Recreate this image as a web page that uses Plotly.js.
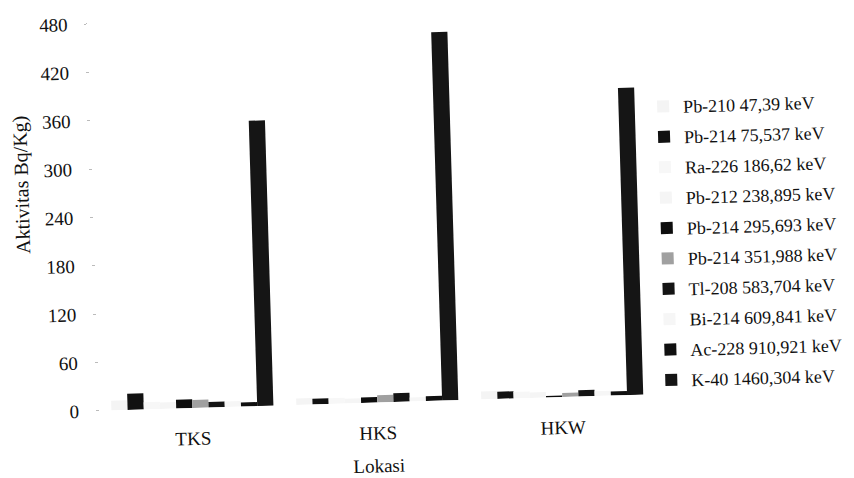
<!DOCTYPE html>
<html>
<head>
<meta charset="utf-8">
<script src="https://cdn.plot.ly/plotly-3.0.1.min.js"></script>
<style>
  html, body { margin: 0; padding: 0; background: #fff; overflow: hidden; }
  /* the printed figure sits slightly askew on the page */
  #chart { width: 854px; height: 478px; transform: rotate(-1.7deg); transform-origin: 427px 239px; }
</style>
</head>
<body>
<div id="chart"></div>
<script>
// Sampling locations
const lokasi = ['TKS', 'HKS', 'HKW'];

// Activity (Bq/Kg) per gamma line, one value per location
const pb210_47 = [12, 8, 10];
const pb214_75 = [20, 7, 9];
const ra226_186 = [9, 7, 8];
const pb212_238 = [8, 6, 7];
const pb214_295 = [11, 7, 2];
const pb214_351 = [10, 9, 5];
const tl208_583 = [7, 11, 8];
const bi214_609 = [7, 5, 6];
const ac228_910 = [5, 6, 5];
const k40_1460 = [354, 457, 381];

// Legend labels
const seriesNames = [
  'Pb-210 47,39 keV',
  'Pb-214 75,537 keV',
  'Ra-226 186,62 keV',
  'Pb-212 238,895 keV',
  'Pb-214 295,693 keV',
  'Pb-214 351,988 keV',
  'Tl-208 583,704 keV',
  'Bi-214 609,841 keV',
  'Ac-228 910,921 keV',
  'K-40 1460,304 keV'
];

const seriesValues = [
  pb210_47, pb214_75, ra226_186, pb212_238, pb214_295,
  pb214_351, tl208_583, bi214_609, ac228_910, k40_1460
];

// Monochrome print: dark series print black, pale ones nearly vanish
const seriesColors = [
  '#f4f4f4', '#111111', '#f7f7f7', '#f5f5f5', '#0d0d0d',
  '#a0a0a0', '#141414', '#f6f6f6', '#101010', '#151515'
];

const serif = 'Liberation Serif, Times New Roman, serif';

const traces = seriesNames.map((name, i) => ({
  type: 'bar',
  name: name,
  x: lokasi,
  y: seriesValues[i],
  legendgroup: 'g' + i,
  marker: { color: seriesColors[i], line: { width: 0 } },
  hoverinfo: 'x+y+name'
}));

const layout = {
  width: 854,
  height: 478,
  margin: { l: 95, r: 204, t: 14, b: 77, autoexpand: false },
  paper_bgcolor: '#ffffff',
  plot_bgcolor: '#ffffff',
  font: { family: serif, size: 19, color: '#111111' },
  barmode: 'group',
  bargap: 0.124,
  bargroupgap: 0,
  showlegend: true,
  legend: {
    x: (647 - 95) / 555,
    xanchor: 'left',
    y: 0.79,
    yanchor: 'top',
    traceorder: 'grouped',
    tracegroupgap: 4,
    font: { family: serif, size: 18, color: '#111111' },
    bgcolor: 'rgba(0,0,0,0)'
  },
  xaxis: {
    type: 'category',
    showgrid: false,
    zeroline: false,
    showline: false,
    ticks: '',
    ticklabelstandoff: 17,
    tickfont: { family: serif, size: 19, color: '#111111' },
    title: { text: 'Lokasi', font: { family: serif, size: 19, color: '#111111' }, standoff: 16 },
    automargin: false
  },
  yaxis: {
    range: [0, 480],
    tickvals: [0, 60, 120, 180, 240, 300, 360, 420, 480],
    showgrid: false,
    zeroline: false,
    showline: false,
    ticks: 'outside',
    ticklen: 3,
    tickcolor: '#bbbbbb',
    ticklabelstandoff: 13,
    tickfont: { family: serif, size: 19, color: '#111111' },
    automargin: false
  },
  annotations: [{
    text: 'Aktivitas Bq/Kg)',
    textangle: -90,
    xref: 'paper',
    yref: 'paper',
    x: (24 - 95) / 555,
    y: (401 - 173) / 387,
    xanchor: 'center',
    yanchor: 'middle',
    showarrow: false,
    font: { family: serif, size: 20, color: '#111111' }
  }]
};

Plotly.newPlot('chart', traces, layout, { displayModeBar: false, staticPlot: true });
</script>
</body>
</html>
